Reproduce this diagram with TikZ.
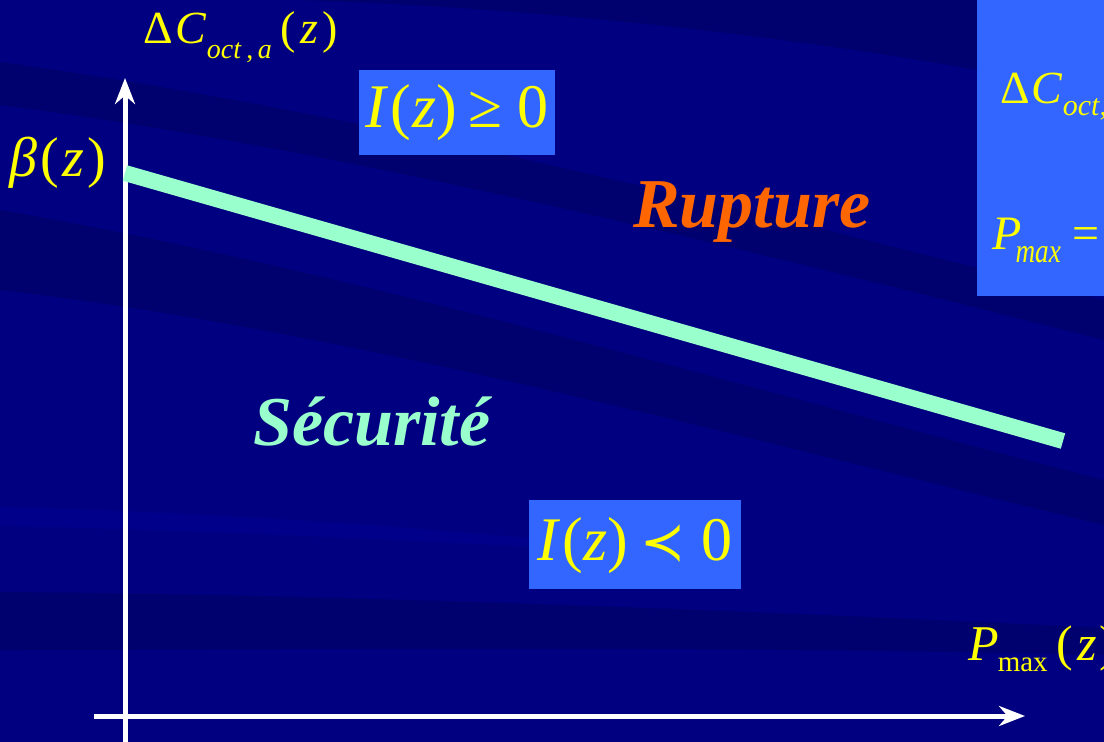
\documentclass[tikz,border=0pt]{standalone}
\usepackage{fontspec}
\usepackage{graphicx}
\setmainfont{Liberation Serif}
\newfontfamily\symfont{DejaVu Sans}
\usetikzlibrary{arrows.meta}
\definecolor{navy}{RGB}{0,0,128}
\definecolor{navydark}{RGB}{0,0,110}
\definecolor{navylight}{RGB}{0,0,138}
\definecolor{boxblue}{RGB}{51,102,255}
\definecolor{mint}{RGB}{153,255,204}
\definecolor{rupt}{RGB}{255,102,0}
\definecolor{yel}{RGB}{255,255,0}
\tikzset{
  axis/.style={draw=white, line width=5pt, -{Stealth[length=26pt,width=20pt]}},
  limit/.style={draw=mint, line width=16pt},
  bluebox/.style={fill=boxblue, inner sep=0pt},
  lab/.style={text=yel, inner sep=0pt},
  zone/.style={inner sep=0pt, font=\fontsize{70}{72}\selectfont\bfseries\itshape},
  band/.style={fill=navydark},
}
\begin{document}
\begin{tikzpicture}[x=1pt,y=-1pt]
\useasboundingbox (0,0) rectangle (1104,742);
\clip (0,0) rectangle (1104,742);
% background
\fill[navy] (0,0) rectangle (1104,742);
\fill[band] (300,0) .. controls (600,10) and (900,50) .. (1104,95) -- (1104,0) -- cycle;
\fill[band] (0,62) .. controls (350,110) and (750,210) .. (1104,300) -- (1104,340) .. controls (750,250) and (350,150) .. (0,105) -- cycle;
\fill[band] (0,210) .. controls (350,270) and (750,390) .. (1104,480) -- (1104,525) .. controls (750,440) and (350,330) .. (0,290) -- cycle;
\fill[band] (0,592) .. controls (300,594) and (700,608) .. (1104,628) -- (1104,655) .. controls (700,645) and (300,650) .. (0,650) -- cycle;
\fill[navylight] (0,507) .. controls (200,512) and (400,525) .. (600,545) -- (600,550) .. controls (400,540) and (200,530) .. (0,526) -- cycle;
% right box
\node[bluebox, minimum width=140pt, minimum height=302pt, anchor=north west] (rbox) at (977,-6) {};
\node[lab, anchor=base west, font=\fontsize{46}{50}\selectfont] (rdc) at (1000,103) {Δ\hspace{2pt}\textit{C}\raisebox{-12pt}{\fontsize{30}{30}\selectfont\textit{oct},\,\textit{a}}};
\node[lab, anchor=base west, font=\fontsize{48}{50}\selectfont] (rpm) at (992,249) {\textit{P}\hspace{-6pt}\raisebox{-13pt}{\scalebox{0.8}[1]{\fontsize{34}{34}\selectfont\textit{max}}}\hspace{12pt}=};
% boxes
\node[bluebox, minimum width=196pt, minimum height=85pt] (ge) at (457,112.5) {};
\node[lab, anchor=base, font=\fontsize{62}{64}\selectfont] (get) at ([yshift=-14.5pt]ge.center) {\textit{I}\hspace{2pt}(\hspace{1pt}\textit{z})\hspace{11pt}≥\hspace{15pt}0};
\node[bluebox, minimum width=212pt, minimum height=89pt] (lt) at (635,544.5) {};
\node[lab, anchor=base, font=\fontsize{62}{64}\selectfont] (ltt) at ([yshift=-15.5pt]lt.center) {\textit{I}\hspace{2pt}(\hspace{1pt}\textit{z})\hspace{12pt}{\symfont\fontsize{54}{56}\selectfont ≺}\hspace{16pt}0};
% axes
\coordinate (ybot) at (125,742);
\coordinate (ytop) at (125,78);
\coordinate (xl) at (94,716);
\coordinate (xr) at (1025,716);
\draw[axis] (ybot) -- (ytop);
\draw[axis] (xl) -- (xr);
% limit line
\coordinate (b0) at (125,173);
\coordinate (b1) at (1063,441);
\draw[limit] (b0) -- (b1);
% labels
\node[lab, anchor=base west, font=\fontsize{46}{48}\selectfont] (dc) at (143,43) {Δ\hspace{3pt}\textit{C}\raisebox{-15pt}{\fontsize{28}{30}\selectfont\textit{oct}\,,\,\textit{a}}\hspace{9pt}(\hspace{4pt}\textit{z}\hspace{4pt})};
\node[lab, anchor=base west, font=\fontsize{56}{58}\selectfont] (beta) at (9,176) {\textit{β}\hspace{3pt}(\hspace{4pt}\textit{z}\hspace{3pt})};
\node[lab, anchor=base west, font=\fontsize{50}{52}\selectfont] (pm) at (968,660) {\textit{P}\hspace{-1pt}\raisebox{-11pt}{\fontsize{29}{30}\selectfont max}\hspace{9pt}(\hspace{4pt}\textit{z}\hspace{3pt})};
\node[zone, text=rupt, anchor=base west] (rup) at (633,227) {Rupture};
\node[zone, text=mint, anchor=base west] (sec) at (253,445) {Sécurité};
\end{tikzpicture}
\end{document}
